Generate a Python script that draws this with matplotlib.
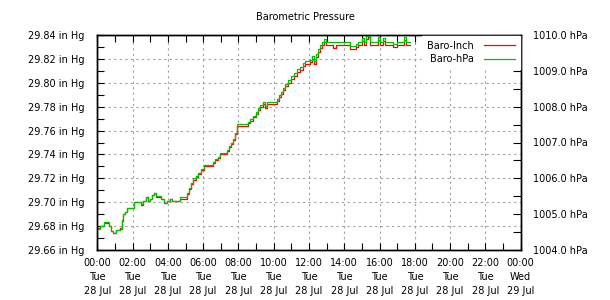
import matplotlib
matplotlib.use('Agg')
import matplotlib.pyplot as plt
from matplotlib.ticker import MultipleLocator
from matplotlib.lines import Line2D

# Data (hours since 00:00 Tue 28 Jul)
inch_hours = [0.00, 0.15, 0.38, 0.66, 0.78, 0.89, 1.06, 1.29, 1.40, 1.46, 1.57, 1.68,
              2.08, 2.48, 2.59, 2.76, 2.87, 2.99, 3.10, 3.21, 3.33, 3.61, 3.78, 3.95,
              4.12, 4.23, 4.69, 5.09, 5.20, 5.31, 5.42, 5.60, 5.71, 5.88, 6.05, 6.56,
              6.67, 6.84, 6.96, 7.35, 7.46, 7.58, 7.69, 7.81, 7.92, 8.54, 8.66, 8.83,
              9.00, 9.11, 9.22, 9.39, 9.51, 9.62, 10.18, 10.30, 10.41, 10.52, 10.64,
              10.81, 10.98, 11.15, 11.32, 11.49, 11.66, 11.77, 12.06, 12.17, 12.28,
              12.40, 12.51, 12.62, 12.73, 12.85, 12.96, 13.07, 13.36, 13.53, 14.32,
              14.66, 14.78, 14.89, 15.00, 15.12, 15.23, 15.35, 15.46, 15.92, 16.03,
              16.20, 16.31, 16.77, 17.00, 17.38, 17.50, 17.73]
inch_values = [29.678, 29.680, 29.683, 29.680, 29.676, 29.674, 29.677, 29.678, 29.684, 29.690,
               29.692, 29.695, 29.700, 29.698, 29.701, 29.704, 29.701, 29.703, 29.706, 29.708,
               29.704, 29.703, 29.699, 29.701, 29.703, 29.701, 29.703, 29.707, 29.711, 29.715,
               29.719, 29.721, 29.724, 29.727, 29.730, 29.733, 29.735, 29.737, 29.740, 29.743,
               29.746, 29.749, 29.752, 29.757, 29.764, 29.766, 29.768, 29.771, 29.774, 29.777,
               29.780, 29.782, 29.779, 29.782, 29.785, 29.788, 29.791, 29.794, 29.797, 29.800,
               29.803, 29.806, 29.809, 29.811, 29.814, 29.816, 29.817, 29.820, 29.816, 29.822,
               29.826, 29.829, 29.832, 29.834, 29.832, 29.832, 29.829, 29.832, 29.828, 29.830,
               29.832, 29.832, 29.835, 29.832, 29.837, 29.838, 29.832, 29.836, 29.832, 29.835,
               29.832, 29.830, 29.832, 29.836, 29.832, 29.832]
hpa_hours = inch_hours
hpa_values = [1004.60, 1004.67, 1004.77, 1004.67, 1004.53, 1004.47, 1004.57, 1004.60, 1004.83, 1005.00,
              1005.07, 1005.17, 1005.33, 1005.27, 1005.37, 1005.47, 1005.37, 1005.43, 1005.53, 1005.60,
              1005.50, 1005.43, 1005.30, 1005.37, 1005.43, 1005.37, 1005.47, 1005.60, 1005.73, 1005.86,
              1006.00, 1006.06, 1006.16, 1006.26, 1006.36, 1006.46, 1006.53, 1006.60, 1006.70, 1006.80,
              1006.90, 1007.00, 1007.10, 1007.26, 1007.53, 1007.58, 1007.65, 1007.75, 1007.85, 1007.95,
              1008.05, 1008.12, 1008.02, 1008.12, 1008.22, 1008.32, 1008.42, 1008.52, 1008.62, 1008.75,
              1008.85, 1008.95, 1009.05, 1009.11, 1009.21, 1009.28, 1009.31, 1009.41, 1009.28, 1009.48,
              1009.61, 1009.71, 1009.80, 1009.88, 1009.80, 1009.80, 1009.80, 1009.80, 1009.70, 1009.75,
              1009.80, 1009.80, 1009.91, 1009.80, 1009.97, 1009.99, 1009.80, 1009.95, 1009.80, 1009.91,
              1009.80, 1009.76, 1009.80, 1009.95, 1009.80, 1009.80]

x_tick_hours = [0, 2, 4, 6, 8, 10, 12, 14, 16, 18, 20, 22, 24]
x_tick_labels = ['00:00\nTue\n28 Jul', '02:00\nTue\n28 Jul', '04:00\nTue\n28 Jul',
                 '06:00\nTue\n28 Jul', '08:00\nTue\n28 Jul', '10:00\nTue\n28 Jul',
                 '12:00\nTue\n28 Jul', '14:00\nTue\n28 Jul', '16:00\nTue\n28 Jul',
                 '18:00\nTue\n28 Jul', '20:00\nTue\n28 Jul', '22:00\nTue\n28 Jul',
                 '00:00\nWed\n29 Jul']
inch_ticks = [29.66, 29.68, 29.70, 29.72, 29.74, 29.76, 29.78, 29.80, 29.82, 29.84]
hpa_ticks = [1004, 1005, 1006, 1007, 1008, 1009, 1010]

fs = 7
fig = plt.figure(figsize=(6.1, 3.0), dpi=100)
ax = fig.add_axes([97.3/610, 50/300, 423.4/610, 215/300])
ax2 = ax.twinx()

ax.plot(inch_hours, inch_values, color='#ff0000', lw=0.9, drawstyle='steps-post')
ax2.plot(hpa_hours, hpa_values, color='#00c000', lw=0.9, drawstyle='steps-post')

ax.set_xlim(0, 24)
ax.set_ylim(29.66, 29.84)
ax2.set_ylim(1004, 1010)

ax.set_xticks(x_tick_hours)
ax.set_xticklabels(x_tick_labels, fontsize=fs, linespacing=1.5)
ax.xaxis.set_minor_locator(MultipleLocator(1))
ax.set_yticks(inch_ticks)
ax.set_yticklabels(['%.2f in Hg' % v for v in inch_ticks], fontsize=fs)
ax.yaxis.set_minor_locator(MultipleLocator(0.01))
ax2.set_yticks(hpa_ticks)
ax2.set_yticklabels(['%.1f hPa' % v for v in hpa_ticks], fontsize=fs)
ax2.yaxis.set_minor_locator(MultipleLocator(0.5))

ax.tick_params(axis='x', which='both', direction='in', top=True, length=5, width=0.8, pad=6)
ax.tick_params(axis='y', which='both', direction='in', right=False, length=5, width=0.8, pad=9)
ax2.tick_params(axis='y', which='both', direction='in', length=6, width=0.8, pad=9)

ax.grid(True, which='major', color='#a0a0a0', linestyle=(0, (2, 3)), lw=0.8)
for a in (ax, ax2):
    for s in a.spines.values():
        s.set_linewidth(1.0)

handles = [Line2D([], [], color='#ff0000', lw=0.9), Line2D([], [], color='#00c000', lw=0.9)]
leg = ax2.legend(handles, ['Baro-Inch', 'Baro-hPa'], loc='upper right', fontsize=fs,
                 markerfirst=False, frameon=True, fancybox=False, framealpha=1,
                 edgecolor='white', facecolor='white', handlelength=3.2,
                 borderpad=0.5, labelspacing=0.35, handletextpad=1.0,
                 borderaxespad=0.1)

fig.text(0.5, 1 - 17/300, 'Barometric Pressure', ha='center', va='center', fontsize=fs)

fig.savefig('out.png', dpi=100)
